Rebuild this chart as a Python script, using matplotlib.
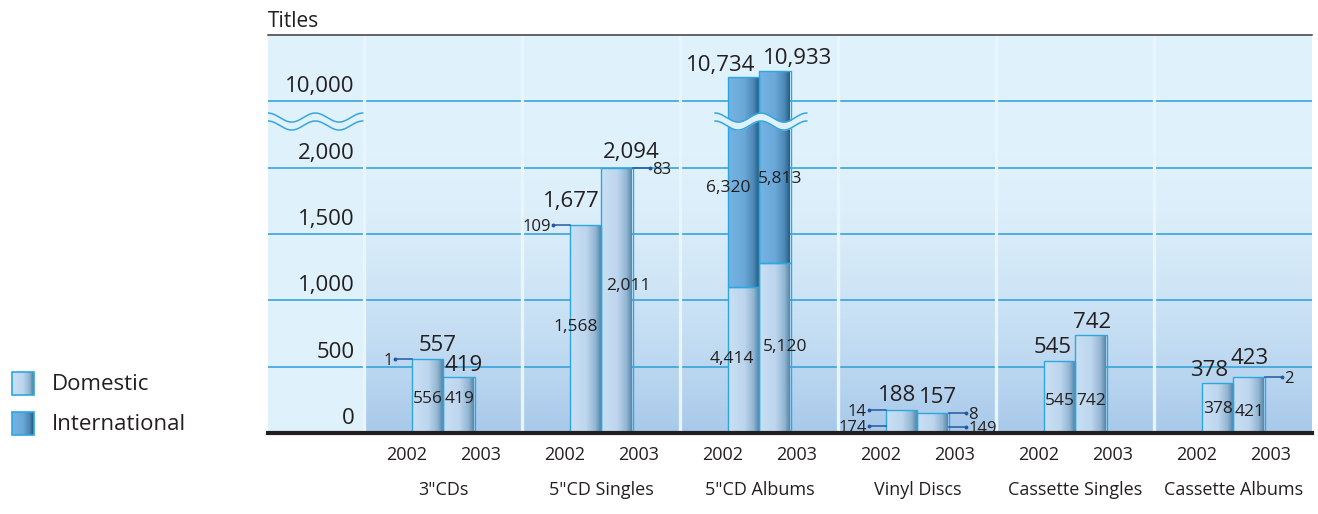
import numpy as np
import matplotlib
matplotlib.use('Agg')
import matplotlib.pyplot as plt
from matplotlib.colors import LinearSegmentedColormap, to_rgb
from matplotlib.patches import Rectangle

plt.rcParams['font.family'] = ['Open Sans', 'DejaVu Sans']

# ---- data ----
categories = ['3"CDs', '5"CD Singles', '5"CD Albums', 'Vinyl Discs',
              'Cassette Singles', 'Cassette Albums']
years = ['2002', '2003']
domestic_2002 = [556, 1568, 4414, 174, 545, 378]
domestic_2003 = [419, 2011, 5120, 149, 742, 421]
international_2002 = [1, 109, 6320, 14, 0, 0]
international_2003 = [0, 83, 5813, 8, 0, 2]
total_2002 = [557, 1677, 10734, 188, 545, 378]
total_2003 = [419, 2094, 10933, 157, 742, 423]
y_ticks = [0, 500, 1000, 1500, 2000, 10000]
legend_labels = ['Domestic', 'International']

# ---- style ----
BG = '#dff1fb'
BG_BOTTOM = '#a8c9ea'
GRID = '#3aa3db'
SEP = '#e8f5fc'
EDGE = '#2ea6df'
LEADER = '#2458a2'
TXT = '#231f20'
dom_cmap = LinearSegmentedColormap.from_list(
    'dom', [(0, '#c9dff3'), (0.5, '#bdd6ee'), (0.8, '#92b5d2'), (1, '#4b7da1')])
int_cmap = LinearSegmentedColormap.from_list(
    'int', [(0, '#74b3e2'), (0.5, '#69a8d9'), (0.8, '#4d88b6'), (1, '#1c567d')])

# per-bar label nudges in pixels (order: cat0-2002, cat0-2003, cat1-2002 ...)
total_dx = [10, 5, -14, 14, -23, 22, -5, 5, -7, 1, -9, 0]
total_gap = [8, 6, 18, 10, 6, 7, 9, 10, 8, 7, 7, 13]
inner_dx = [0, 0, -10, 11, -12, 10, 0, 0, 0, 0, 0, 0]
inner_frac = [0.49, 0.64, 0.52, 0.56, 0.52, 0.52, 0, 0, 0.47, 0.35, 0.52, 0.42]
intl_dx = [-15, 5]
intl_frac = [0.48, 0.45]
PX = 0.72  # points per pixel at dpi 100
MIN_SHARE = 0.2  # smaller international shares are only called out, not drawn


# broken axis: 0-2000 linear, 2000-10000 squeezed, above 10000 stretched
def fwd(v):
    v = np.asarray(v, dtype=float)
    return np.where(v <= 2000, v,
                    np.where(v <= 10000, 2000 + (v - 2000) / 16.0,
                             2500 + (v - 10000) * 0.25))


def inv(u):
    u = np.asarray(u, dtype=float)
    return np.where(u <= 2000, u,
                    np.where(u <= 2500, 2000 + (u - 2000) * 16.0,
                             10000 + (u - 2500) * 4.0))


W, H = 1318, 514
fig = plt.figure(figsize=(W / 100, H / 100), dpi=100)
fig.patch.set_facecolor('white')
pos = [268 / W, 1 - 433 / H, (1312 - 268) / W, (433 - 35) / H]
XL, XR = -1.109, 5.497
YTOP = 12006

# background with gradient in the category columns
bg = fig.add_axes(pos, zorder=0)
bg.set_xlim(0, 1)
bg.set_ylim(0, 1)
bg.axis('off')
bg.add_patch(Rectangle((0, 0), 1, 1, color=BG, zorder=0))
t = np.linspace(0, 1, 256) ** 1.6
c0, c1 = np.array(to_rgb(BG)), np.array(to_rgb(BG_BOTTOM))
grad_bg = (c0[None, :] * (1 - t[:, None]) + c1[None, :] * t[:, None])[:, None, :]
gx0 = (-0.5 - XL) / (XR - XL)
bg.imshow(grad_bg, extent=(gx0, 1, 0, (433 - 157) / 398), aspect='auto',
          origin='upper', interpolation='bilinear', zorder=1)
bg.set_xlim(0, 1)
bg.set_ylim(0, 1)

ax = fig.add_axes(pos, zorder=1)
ax.set_facecolor('none')
ax.set_yscale('function', functions=(fwd, inv))
for s in ['left', 'right', 'bottom']:
    ax.spines[s].set_visible(False)
ax.spines['top'].set_color('#3c3c3c')
ax.spines['top'].set_linewidth(1.1)
ax.set_yticks(y_ticks)
ax.set_yticklabels([])
ax.set_xticks([])
ax.tick_params(length=0)
ax.yaxis.grid(True, color=GRID, lw=1.2)
ax.set_axisbelow(True)

# column separators
for sx in np.arange(len(categories)) - 0.5:
    ax.axvline(sx, color=SEP, lw=2.4, zorder=2)

xc = np.arange(len(categories))
bw = 0.2
grad = np.linspace(0, 1, 64)[None, :]
dom = [domestic_2002, domestic_2003]
intl = [international_2002, international_2003]
tot = [total_2002, total_2003]


def drawn_parts(d, i_v, total):
    """Return (domestic top, bar top) as plotted values."""
    if i_v / total >= MIN_SHARE:
        # domestic segment keeps its share of the drawn bar height
        return float(inv(fwd(total) * d / total)), total
    return d, d


for j in range(2):
    xs = xc + (j - 0.5) * bw
    parts = [drawn_parts(dom[j][k], intl[j][k], tot[j][k]) for k in range(len(categories))]
    split = np.array([p[0] for p in parts])
    top = np.array([p[1] for p in parts])
    bars_d = ax.bar(xs, split, bw, color='none', edgecolor=EDGE, lw=1.0, zorder=4)
    bars_i = ax.bar(xs, top - split, bw, bottom=split, color='none',
                    edgecolor=EDGE, lw=1.0, zorder=4)
    for k in range(len(categories)):
        for p, cmap in ((bars_d[k], dom_cmap), (bars_i[k], int_cmap)):
            if p.get_height() <= 0:
                p.set_visible(False)
                continue
            x0 = p.get_x()
            y0 = p.get_y()
            im = ax.imshow(grad, cmap=cmap, extent=(x0, x0 + bw, y0, y0 + p.get_height()),
                           aspect='auto', interpolation='bilinear', zorder=3)
            im.set_clip_path(p)


# break wave over the 5"CD album bars and in the label column
def wave(x0, x1, zorder):
    xw = np.linspace(x0, x1, 300)
    per = (x1 - x0) / 2
    cosw = np.cos(2 * np.pi * (xw - x0) / per)
    up = inv(2379 + 34 * cosw)
    lo = inv(2319 + 34 * cosw)
    ax.fill_between(xw, lo, up, color=BG, lw=0, zorder=zorder)
    ax.plot(xw, up, color='#36a6dd', lw=1.1, zorder=zorder + 0.1)
    ax.plot(xw, lo, color='#36a6dd', lw=1.1, zorder=zorder + 0.1)


big = int(np.argmax(total_2003))
wave(big - bw - 0.08, big + bw + 0.10, 5)
wave(XL, -0.51, 5)

# baseline
ax.axhline(0, color=TXT, lw=3, zorder=6, clip_on=False)

# y labels inside the first column
for v in y_ticks:
    ax.annotate(f'{v:,}', (-0.559, v), xytext=(0, 6.5), textcoords='offset points',
                ha='right', va='baseline', fontsize=16, color=TXT)

# value labels
for j in range(2):
    xs = xc + (j - 0.5) * bw
    side = -1 if j == 0 else 1
    for k in range(len(categories)):
        n = 2 * k + j
        total = tot[j][k]
        d = dom[j][k]
        i_v = intl[j][k]
        split, top = drawn_parts(d, i_v, total)
        u_top = float(fwd(top))
        u_split = float(fwd(split))
        ax.annotate(f'{total:,}', (xs[k], top),
                    xytext=(total_dx[n] * PX, total_gap[n] * PX), textcoords='offset points',
                    ha='center', va='baseline', fontsize=16, color=TXT, zorder=7)
        leaders = []
        if total < 300:
            leaders.append((d, float(inv(u_split * 0.3))))
        else:
            ax.annotate(f'{d:,}', (xs[k], float(inv(u_split * inner_frac[n]))),
                        xytext=(inner_dx[n] * PX, 0), textcoords='offset points',
                        ha='center', va='center_baseline', fontsize=12.5, color=TXT, zorder=7)
        if i_v > 0:
            if top == split:
                leaders.append((i_v, top))
            else:
                yi = float(inv(u_split + intl_frac[j] * (u_top - u_split)))
                ax.annotate(f'{i_v:,}', (xs[k], yi), xytext=(intl_dx[j] * PX, 0),
                            textcoords='offset points', ha='center',
                            va='center_baseline', fontsize=12.5, color=TXT, zorder=7)
        for val, yv in leaders:
            edge = xs[k] + side * bw / 2
            end = edge + side * 0.105
            ax.plot([edge, end], [yv, yv], color=LEADER, lw=1.1, zorder=7, clip_on=False)
            ax.plot([end], [yv], 'o', color=LEADER, ms=1.8, zorder=7, clip_on=False)
            ax.text(end + side * 0.016, yv, f'{val:,}', ha='left' if side > 0 else 'right',
                    va='center_baseline', fontsize=12, color=TXT, zorder=7)

# x labels
xtr = ax.get_xaxis_transform()
for k, cat in enumerate(categories):
    for j, yr in enumerate(years):
        ax.text(k + (j - 0.5) * 0.47, -0.0678, yr, transform=xtr, ha='center',
                va='baseline', fontsize=13, color=TXT, clip_on=False)
    ax.text(k, -0.1558, cat, transform=xtr, ha='center', va='baseline',
            fontsize=13, color=TXT, clip_on=False)

ax.set_xlim(XL, XR)
ax.set_ylim(0, YTOP)

fig.text(268 / W, 1 - 27 / H, 'Titles', ha='left', va='baseline', fontsize=15, color=TXT)

# legend
lax = fig.add_axes([0, 0, 1, 1], zorder=2)
lax.axis('off')
lax.patch.set_alpha(0)
for i, (lab, cmap) in enumerate(zip(legend_labels, [dom_cmap, int_cmap])):
    y0 = 372 + 40 * i
    lax.imshow(grad, cmap=cmap, extent=(12, 34, y0 + 23, y0), aspect='auto',
               interpolation='bilinear')
    lax.add_patch(Rectangle((12, y0), 22, 23, fill=False, edgecolor=EDGE, lw=1.2))
    lax.text(52, y0 + 12, lab, ha='left', va='center', fontsize=16, color=TXT)
lax.set_xlim(0, W)
lax.set_ylim(H, 0)

fig.savefig('out.png', dpi=100)
